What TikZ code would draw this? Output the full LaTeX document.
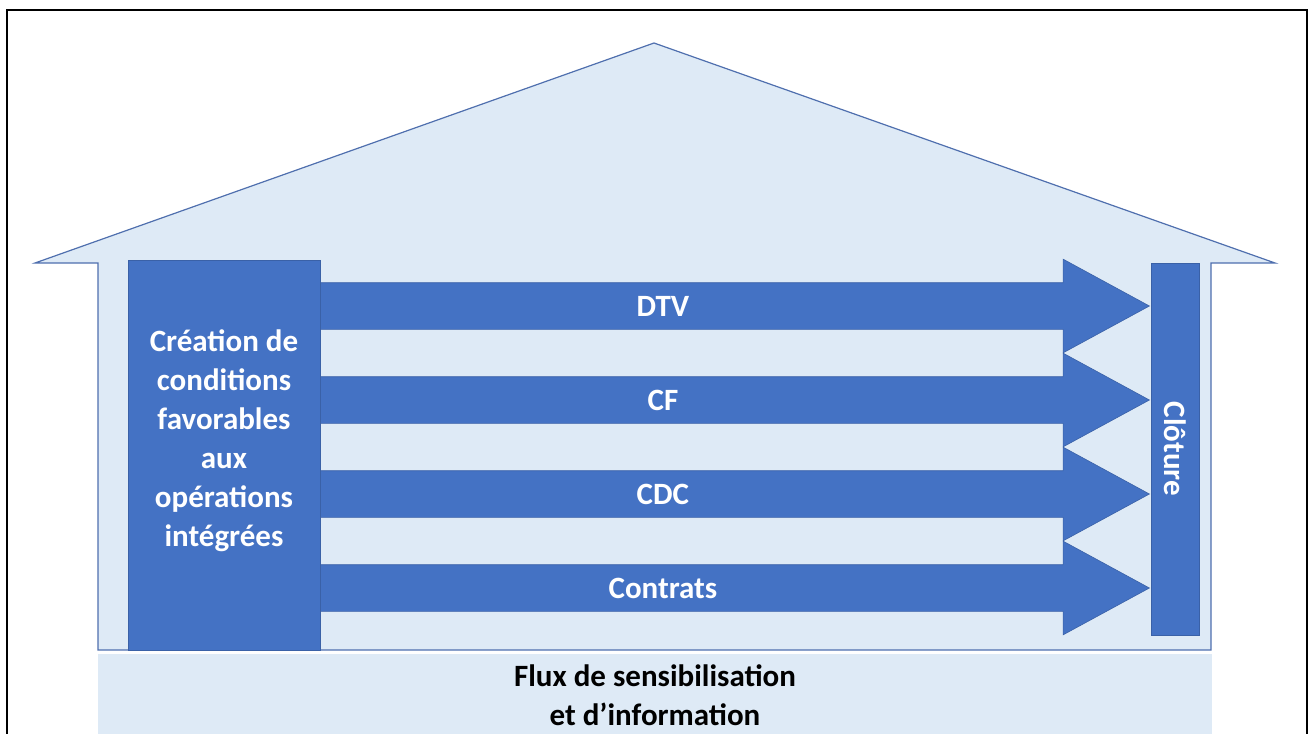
\documentclass[tikz,border=0pt]{standalone}
\usepackage{fontspec}
\setmainfont{Carlito}
\usetikzlibrary{shapes.arrows}
\definecolor{bleu}{HTML}{4472C4}
\definecolor{bleuclair}{HTML}{DEEAF6}
\definecolor{trait}{HTML}{4F6FAE}
\begin{document}
\begin{tikzpicture}[x=1pt,y=-1pt,font=\bfseries\fontsize{31}{39}\selectfont,
  bloc/.style={fill=bleu,draw=bleu!85!black,line width=0.6pt,text=white,align=center,inner sep=0pt},
  fleche/.style={single arrow,fill=bleu,draw=bleu!85!black,line width=0.6pt,text=white,
    inner xsep=0pt,inner ysep=13pt,text height=20pt,text depth=0pt,
    minimum width=93,minimum height=930,single arrow head extend=23.5,single arrow tip angle=57,anchor=tip}]
\useasboundingbox (0,0) rectangle (1308,733);
\clip (0,0) rectangle (1308,733);
\draw[line width=2.3pt] (7,10) rectangle (1307,760);
% maison
\draw[fill=bleuclair,draw=trait,line width=1.2pt] (98,650) -- (98,263) -- (35,263) -- (654,43) -- (1275,263) -- (1211,263) -- (1211,650) -- cycle;
\node[fill=bleuclair,inner sep=0pt,align=center,minimum width=1114,minimum height=82] (flux) at (655,695) {Flux de sensibilisation\\et d’information};
% fleches
\node[fleche] (dtv) at (1150,306) {DTV};
\node[fleche] (cf) at (1150,400) {CF};
\node[fleche] (cdc) at (1150,494) {CDC};
\node[fleche] (contrats) at (1150,588) {Contrats};
% blocs
\node[bloc,minimum width=192,minimum height=390] (crea) at (224,455) {};
\node[text=white,align=center,inner sep=0pt] (creatxt) at (224,441) {Création de\\conditions\\favorables\\aux\\opérations\\intégrées};
\node[bloc,rotate=-90,minimum width=372,minimum height=48] (clo) at (1175,449) {Clôture};
\end{tikzpicture}
\end{document}
